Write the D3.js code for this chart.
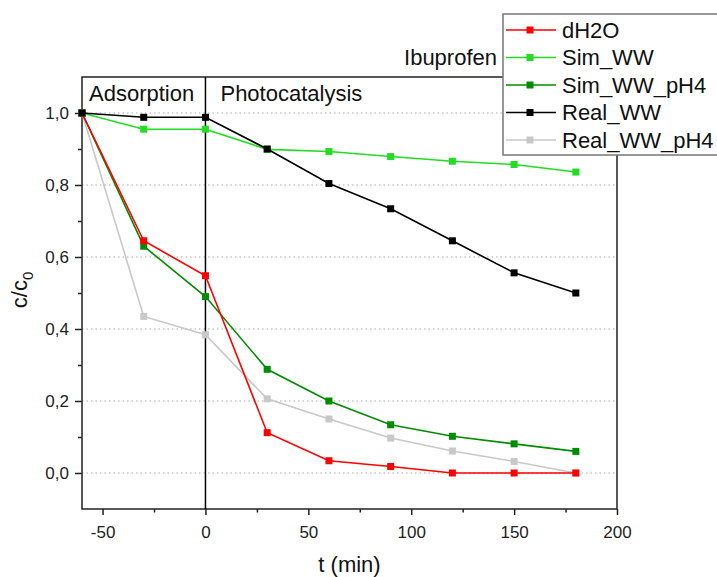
<!DOCTYPE html>
<html>
<head>
<meta charset="utf-8">
<script src="https://cdn.jsdelivr.net/npm/d3@7"></script>
<style>
  body { margin: 0; background: #fff; }
  svg { font-family: "Liberation Sans", Arial, sans-serif; }
</style>
</head>
<body>
<div class="chart"></div>
<script>
// Data
const times = [-60, -30, 0, 30, 60, 90, 120, 150, 180];
const dH2O = [1.0, 0.645, 0.548, 0.112, 0.034, 0.018, 0.0, 0.0, 0.0];
const simWW = [1.0, 0.955, 0.955, 0.899, 0.893, 0.879, 0.866, 0.857, 0.836];
const simWWpH4 = [1.0, 0.63, 0.49, 0.288, 0.2, 0.134, 0.102, 0.081, 0.06];
const realWW = [1.0, 0.988, 0.988, 0.9, 0.804, 0.734, 0.645, 0.556, 0.5];
const realWWpH4 = [1.0, 0.435, 0.384, 0.206, 0.15, 0.097, 0.061, 0.032, 0.0];

const seriesNames = ["dH2O", "Sim_WW", "Sim_WW_pH4", "Real_WW", "Real_WW_pH4"];
const seriesColors = ["#ff0000", "#22dd22", "#008c00", "#000000", "#c8c8c8"];
const seriesValues = [dH2O, simWW, simWWpH4, realWW, realWWpH4];

const xTicks = [-50, 0, 50, 100, 150, 200];
const xMinor = [-25, 25, 75, 125, 175];
const yTicks = [0, 0.2, 0.4, 0.6, 0.8, 1.0];
const yMinor = [0.1, 0.3, 0.5, 0.7, 0.9];

// draw order: light ones first so dark ones sit on top
const drawOrder = [4, 2, 0, 1, 3];

const margin = { top: 77, right: 100, bottom: 68, left: 82 };
const W = 717, H = 577;
const width = W - margin.left - margin.right;
const height = H - margin.top - margin.bottom;

const svg = d3.select(".chart").append("svg")
    .attr("width", W)
    .attr("height", H);

const g = svg.append("g")
    .attr("transform", `translate(${margin.left},${margin.top})`);

const x = d3.scaleLinear().domain([-60, 200]).range([0, width]);
const y = d3.scaleLinear().domain([-0.1, 1.1]).range([height, 0]);

// dotted grid
g.selectAll(".grid")
    .data(yTicks)
    .enter()
    .append("line")
    .attr("x1", 0)
    .attr("x2", width)
    .attr("y1", d => y(d))
    .attr("y2", d => y(d))
    .attr("stroke", "#aaa")
    .attr("stroke-width", 1.2)
    .attr("stroke-dasharray", "1.5,3");

// axes
const fmtY = d => d3.format(".1f")(d).replace(".", ",");
const fmtX = d => String(d); // plain hyphen like the original

g.append("g")
    .call(d3.axisLeft(y).tickValues(yTicks).tickFormat(fmtY).tickSize(7).tickPadding(6));
g.append("g")
    .call(d3.axisLeft(y).tickValues(yMinor).tickFormat("").tickSize(4));

g.append("g")
    .attr("transform", `translate(0,${height})`)
    .call(d3.axisBottom(x).tickValues(xTicks).tickFormat(fmtX).tickSize(6).tickPadding(11));
g.append("g")
    .attr("transform", `translate(0,${height})`)
    .call(d3.axisBottom(x).tickValues(xMinor).tickFormat("").tickSize(3.5));

g.selectAll(".domain").remove();
g.selectAll(".tick line").attr("stroke", "#222").attr("stroke-width", 1.5);
g.selectAll(".tick text")
    .style("font-size", "17px")
    .attr("fill", "#222");

// frame
g.append("rect")
    .attr("width", width)
    .attr("height", height)
    .attr("fill", "none")
    .attr("stroke", "#222")
    .attr("stroke-width", 1.5);

// adsorption / photocatalysis divider at t = 0
g.append("line")
    .attr("x1", x(0))
    .attr("x2", x(0))
    .attr("y1", 0)
    .attr("y2", height)
    .attr("stroke", "#000")
    .attr("stroke-width", 1.5);

g.append("text")
    .attr("x", x(-60) + 7)
    .attr("y", 24)
    .style("font-size", "22px")
    .attr("fill", "#111")
    .text("Adsorption");

g.append("text")
    .attr("x", x(0) + 15)
    .attr("y", 24)
    .style("font-size", "22px")
    .attr("fill", "#111")
    .text("Photocatalysis");

// lines and markers
const line = d3.line()
    .x((d, i) => x(times[i]))
    .y(d => y(d));

drawOrder.forEach(k => {
    const vals = seriesValues[k];
    g.append("path")
        .datum(vals)
        .attr("fill", "none")
        .attr("stroke", seriesColors[k])
        .attr("stroke-width", 1.6)
        .attr("d", line);

    g.selectAll(null)
        .data(vals)
        .enter()
        .append("rect")
        .attr("x", (d, i) => x(times[i]) - 3.5)
        .attr("y", d => y(d) - 3.5)
        .attr("width", 7)
        .attr("height", 7)
        .attr("fill", seriesColors[k]);
});

// axis titles
svg.append("text")
    .attr("x", margin.left + width / 2)
    .attr("y", 572)
    .attr("text-anchor", "middle")
    .style("font-size", "22px")
    .attr("fill", "#111")
    .text("t (min)");

const yTitle = svg.append("text")
    .attr("transform", "translate(27,290) rotate(-90)")
    .attr("text-anchor", "middle")
    .style("font-size", "22px")
    .attr("fill", "#111");
yTitle.append("tspan").text("c/c");
yTitle.append("tspan").attr("dy", 6).style("font-size", "15px").text("0");

// "Ibuprofen" label next to the legend
svg.append("text")
    .attr("x", 497)
    .attr("y", 65)
    .attr("text-anchor", "end")
    .style("font-size", "22px")
    .attr("fill", "#111")
    .text("Ibuprofen");

// legend
const legend = svg.append("g")
    .attr("class", "legend")
    .attr("transform", "translate(503,14)");

legend.append("rect")
    .attr("width", 240)
    .attr("height", 141)
    .attr("fill", "#fff")
    .attr("stroke", "#777")
    .attr("stroke-width", 1.5);

const rows = legend.selectAll(".row")
    .data(seriesNames)
    .enter()
    .append("g")
    .attr("transform", (d, i) => `translate(0,${16 + i * 27.5})`);

rows.append("line")
    .attr("x1", 3)
    .attr("x2", 53)
    .attr("stroke", (d, i) => seriesColors[i])
    .attr("stroke-width", 1.6);

rows.append("rect")
    .attr("x", 27 - 3.5)
    .attr("y", -3.5)
    .attr("width", 7)
    .attr("height", 7)
    .attr("fill", (d, i) => seriesColors[i]);

rows.append("text")
    .attr("x", 59)
    .attr("dy", "0.36em")
    .style("font-size", "22px")
    .attr("fill", "#111")
    .text(d => d);
</script>
</body>
</html>
